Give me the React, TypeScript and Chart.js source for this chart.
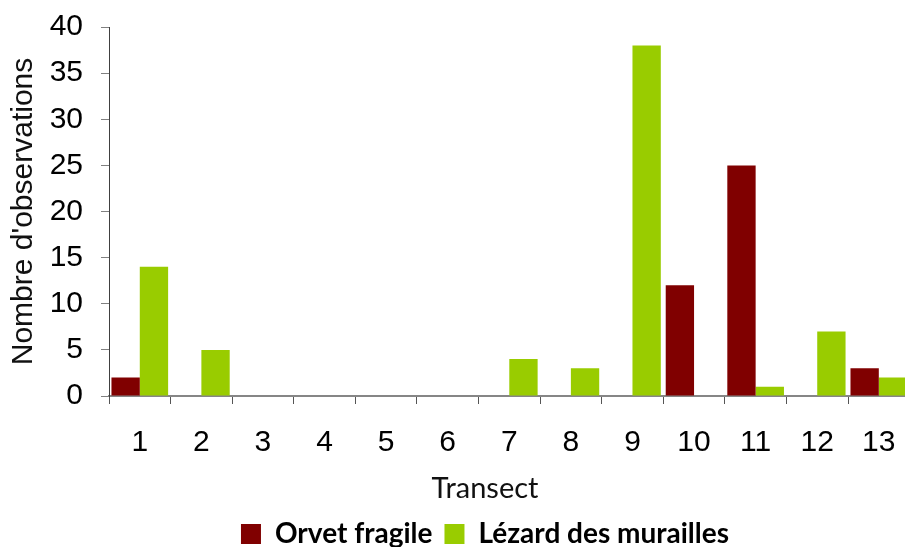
import React, { useEffect, useRef } from "react";
import { Chart, registerables } from "chart.js";

Chart.register(...registerables);

const categories = ["1", "2", "3", "4", "5", "6", "7", "8", "9", "10", "11", "12", "13"];
const orvetFragile = [2, 0, 0, 0, 0, 0, 0, 0, 0, 12, 25, 0, 3];
const lezardMurailles = [14, 5, 0, 0, 0, 0, 4, 3, 38, 0, 1, 7, 2];
const seriesNames = ["Orvet fragile", "Lézard des murailles"];
const xTitle = "Transect";
const yTitle = "Nombre d'observations";

export default function App() {
  const ref = useRef<HTMLCanvasElement | null>(null);

  useEffect(() => {
    if (!ref.current) return;
    const chart = new Chart(ref.current, {
      type: "bar",
      data: {
        labels: categories,
        datasets: [
          {
            label: seriesNames[0],
            data: orvetFragile,
            backgroundColor: "#800000",
            borderWidth: 0,
            categoryPercentage: 0.92,
            barPercentage: 1,
          },
          {
            label: seriesNames[1],
            data: lezardMurailles,
            backgroundColor: "#99CC00",
            borderWidth: 0,
            categoryPercentage: 0.92,
            barPercentage: 1,
          },
        ],
      },
      options: {
        animation: false,
        responsive: true,
        maintainAspectRatio: false,
        layout: { padding: { top: 27, left: 0, right: 0, bottom: 0 } },
        plugins: {
          tooltip: { enabled: false },
          title: {
            display: true,
            text: xTitle,
            position: "bottom",
            weight: 500,
            color: "#111",
            font: { family: "Lato", size: 29, weight: "normal", lineHeight: 1.2 },
            padding: { top: 12, bottom: 2.2 },
          },
          legend: {
            display: true,
            position: "bottom",
            weight: 1000,
            labels: {
              boxWidth: 20,
              boxHeight: 20,
              padding: 12,
              color: "#000",
              font: { family: "Lato", size: 28, weight: "bold" },
            },
          },
        },
        scales: {
          x: {
            type: "category",
            offset: true,
            grid: {
              display: true,
              offset: true,
              drawOnChartArea: false,
              drawTicks: true,
              tickLength: 8,
              color: "#555",
              lineWidth: 1,
            },
            border: { display: true, color: "#868686", width: 2 },
            ticks: {
              autoSkip: false,
              maxRotation: 0,
              minRotation: 0,
              padding: 21,
              color: "#000",
              font: { family: "Liberation Sans", size: 30 },
            },
            afterFit: (s: any) => {
              s.height = 63;
            },
          },
          y: {
            type: "linear",
            position: "left",
            min: 0,
            max: 40,
            grid: {
              display: true,
              drawOnChartArea: false,
              drawTicks: true,
              tickLength: 8,
              color: "#808080",
            },
            border: { display: true, color: "#404040", width: 1 },
            ticks: {
              stepSize: 5,
              padding: 18,
              color: "#000",
              font: { family: "Liberation Sans", size: 30, lineHeight: 0.5 },
            },
            title: {
              display: true,
              text: yTitle,
              color: "#111",
              font: { family: "Liberation Sans", size: 30, lineHeight: 1.2 },
              padding: { top: 6, bottom: 0 },
            },
            afterFit: (s: any) => {
              s.width = 109;
            },
          },
          spacer: {
            type: "linear",
            position: "right",
            display: true,
            grid: { display: false, drawTicks: false },
            border: { display: false },
            ticks: { display: false },
            afterFit: (s: any) => {
              s.width = 60.4;
            },
          },
        },
      },
    });
    return () => chart.destroy();
  }, []);

  return (
    <div
      style={{
        position: "absolute",
        left: 0,
        top: 0,
        width: 905,
        height: 547,
        overflow: "hidden",
        background: "#fff",
      }}
    >
      <div style={{ position: "relative", width: 970, height: 558 }}>
        <canvas ref={ref} />
      </div>
    </div>
  );
}
